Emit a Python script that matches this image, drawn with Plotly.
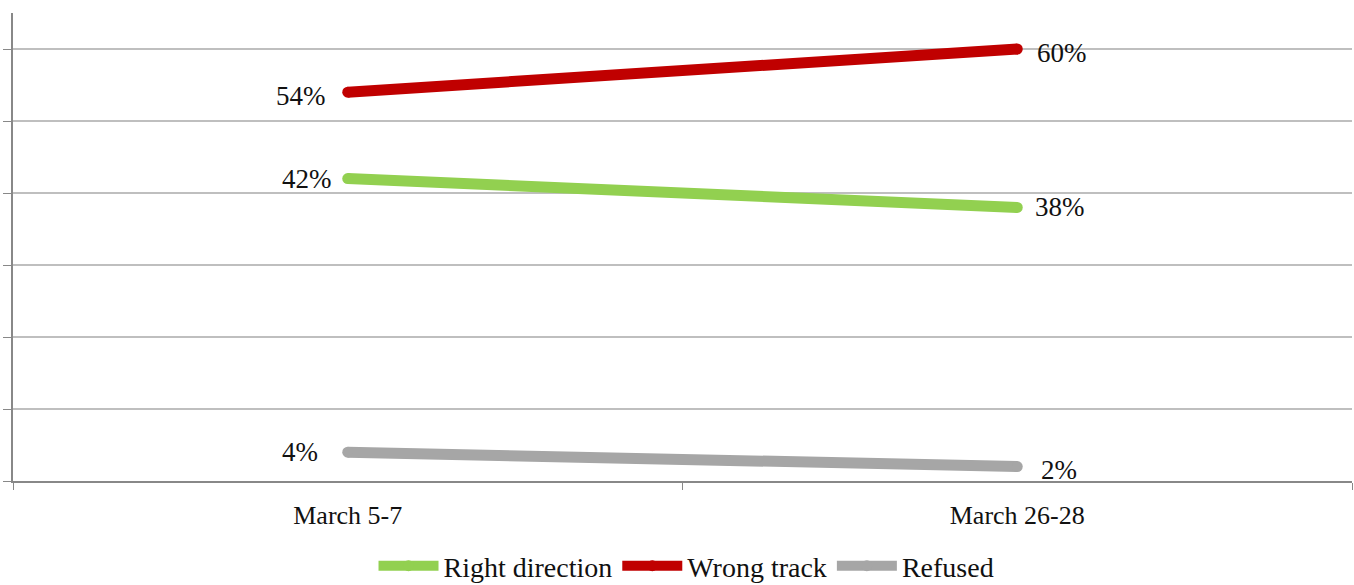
import plotly.graph_objects as go

categories = ["March 5-7", "March 26-28"]
series_names = ["Right direction", "Wrong track", "Refused"]
right_direction = [42, 38]
wrong_track = [54, 60]
refused = [4, 2]
colors = ["#92d050", "#c00000", "#a6a6a6"]

FONT = "Liberation Serif"
# label offsets (left point, right point) in pixels
label_shift = {
    "Right direction": [(-14, 0), (16, 0)],
    "Wrong track": [(-20, -4), (18, -4)],
    "Refused": [(-28, 0), (22, -3)],
}

fig = go.Figure()
for name, vals, col in zip(series_names, [right_direction, wrong_track, refused], colors):
    fig.add_trace(go.Scatter(
        x=categories, y=vals, name=name, mode="lines+markers",
        line=dict(color=col, width=11),
        marker=dict(color=col, size=11, line=dict(width=0)),
        cliponaxis=False,
    ))
    for i, (c, v) in enumerate(zip(categories, vals)):
        dx, dy = label_shift[name][i]
        fig.add_annotation(
            x=c, y=v, xref="x", yref="y", text=f"{v}%", showarrow=False,
            xanchor="right" if i == 0 else "left", yanchor="middle",
            xshift=dx, yshift=dy,
            font=dict(family=FONT, size=27, color="#111111"),
        )

fig.update_layout(
    width=1354, height=585,
    margin=dict(l=13, r=2, t=13, b=104),
    paper_bgcolor="white", plot_bgcolor="white",
    showlegend=True,
    legend=dict(orientation="h", x=0.503, xanchor="center",
                yref="container", y=19 / 585, yanchor="middle",
                font=dict(family=FONT, size=28, color="#111111"),
                tracegroupgap=0, itemwidth=60),
    font=dict(family=FONT, size=26, color="#111111"),
)
fig.update_xaxes(type="category", range=[-0.5, 1.5], tickson="boundaries",
                 ticks="outside", ticklen=7, tickcolor="#888888", automargin=False,
                 ticklabelstandoff=10,
                 showline=True, linecolor="#888888", linewidth=1.5,
                 showgrid=False, tickfont=dict(family=FONT, size=26, color="#111111"))
fig.update_yaxes(range=[0, 65], dtick=10, showticklabels=False, automargin=False,
                 ticks="outside", ticklen=8, tickcolor="#888888",
                 showline=True, linecolor="#888888", linewidth=1.5,
                 showgrid=True, gridcolor="#bfbfbf", gridwidth=1.5, zeroline=False)

fig.write_html("out.html", config={"displayModeBar": False},
               post_script="document.body.style.margin='0';document.body.style.overflow='hidden';")
